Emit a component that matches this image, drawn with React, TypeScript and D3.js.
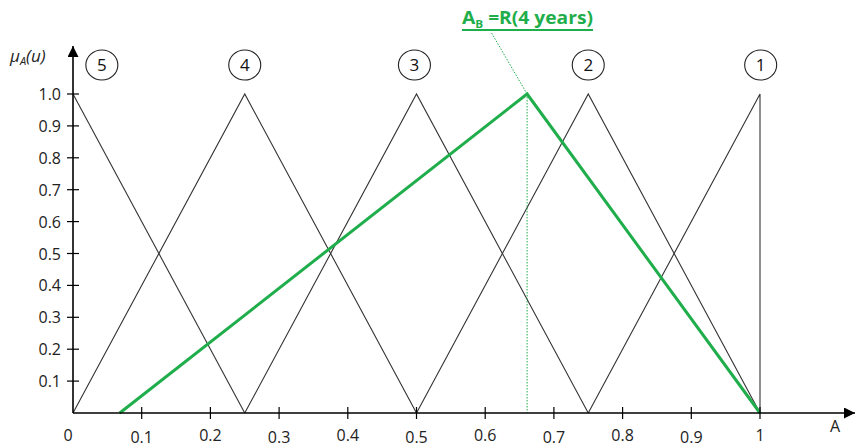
import React from "react";
import * as d3 from "d3";

const xTicks = [0, 0.1, 0.2, 0.3, 0.4, 0.5, 0.6, 0.7, 0.8, 0.9, 1];
const xTickLabels = ["0", "0.1", "0.2", "0.3", "0.4", "0.5", "0.6", "0.7", "0.8", "0.9", "1"];
const yTicks = [0.1, 0.2, 0.3, 0.4, 0.5, 0.6, 0.7, 0.8, 0.9, 1.0];
const yTickLabels = ["0.1", "0.2", "0.3", "0.4", "0.5", "0.6", "0.7", "0.8", "0.9", "1.0"];

// membership triangles: label, points [x, y]
const setLabels = ["5", "4", "3", "2", "1"];
const setPoints: [number, number][][] = [
  [[0, 1], [0.25, 0]],
  [[0, 0], [0.25, 1], [0.5, 0]],
  [[0.25, 0], [0.5, 1], [0.75, 0]],
  [[0.5, 0], [0.75, 1], [1, 0]],
  [[0.75, 0], [1, 1], [1, 0]],
];
const labelX = [0.042, 0.25, 0.497, 0.75, 1.001];

const greenPoints: [number, number][] = [[0.068, 0], [0.661, 1], [1, 0]];
const greenPeak = 0.661;

const GREEN = "#1fae4b";

export default function App() {
  const x = d3.scaleLinear().domain([0, 1]).range([73, 760]);
  const y = d3.scaleLinear().domain([0, 1]).range([413, 94]);
  const line = d3.line<[number, number]>().x((d) => x(d[0])).y((d) => y(d[1]));
  const font = "'Open Sans', 'DejaVu Sans', sans-serif";

  return (
    <svg width={855} height={448} style={{ position: "absolute", left: 0, top: 0 }} fontFamily={font}>
      <rect width={855} height={448} fill="#fff" />
      <defs>
        <marker id="arr" viewBox="0 0 10 10" refX="10" refY="5" markerWidth="11" markerHeight="11" markerUnits="userSpaceOnUse" orient="auto">
          <path d="M0,0 L10,5 L0,10 z" fill="#000" />
        </marker>
      </defs>
      {/* triangles */}
      {setPoints.map((pts, i) => (
        <path key={i} d={line(pts) || ""} fill="none" stroke="#333" strokeWidth={1.1} />
      ))}
      {/* green dotted guides */}
      <line x1={x(greenPeak)} y1={y(1)} x2={x(greenPeak)} y2={y(0)} stroke={GREEN} strokeWidth={1} strokeDasharray="1.5,1.5" />
      <line x1={x(greenPeak)} y1={y(1)} x2={491} y2={32} stroke={GREEN} strokeWidth={1} strokeDasharray="1.5,1.5" />
      <path d={line(greenPoints) || ""} fill="none" stroke={GREEN} strokeWidth={3} />
      {/* axes */}
      <line x1={x(0)} y1={y(0)} x2={855} y2={y(0)} stroke="#000" strokeWidth={1.6} markerEnd="url(#arr)" />
      <line x1={x(0)} y1={y(0)} x2={x(0)} y2={46} stroke="#000" strokeWidth={1.6} markerEnd="url(#arr)" />
      {xTicks.map((t, i) => (
        <g key={i}>
          {i > 0 && <line x1={x(t)} x2={x(t)} y1={y(0) - 6} y2={y(0) + 6} stroke="#000" strokeWidth={1.2} />}
          <text x={x(t) - (i === 0 ? 5 : 0)} y={i % 2 === 0 ? 441 : 443} fontSize={16} textAnchor="middle" fill="#222">
            {xTickLabels[i]}
          </text>
        </g>
      ))}
      {yTicks.map((t, i) => (
        <g key={i}>
          <line x1={x(0) - 6} x2={x(0) + 6} y1={y(t)} y2={y(t)} stroke="#000" strokeWidth={1.2} />
          <text x={61} y={y(t) + 6} fontSize={16} textAnchor="end" fill="#222">
            {yTickLabels[i]}
          </text>
        </g>
      ))}
      <text x={835} y={432} fontSize={16} textAnchor="middle" fill="#222">A</text>
      <text x={10} y={62} fontSize={17} fontStyle="italic" fill="#222">
        μ<tspan fontSize={11} dy={3}>A</tspan><tspan dy={-3}>(u)</tspan>
      </text>
      {/* set labels */}
      {setLabels.map((s, i) => (
        <g key={s}>
          <ellipse cx={x(labelX[i])} cy={65} rx={16} ry={15} fill="#fff" stroke="#222" strokeWidth={1.1} />
          <text x={x(labelX[i])} y={71} fontSize={17} textAnchor="middle" fill="#111">{s}</text>
        </g>
      ))}
      {/* green label */}
      <text x={462} y={24} fontSize={18} fontWeight="bold" fill={GREEN} textLength={131} lengthAdjust="spacingAndGlyphs">
        A<tspan fontSize={11} dy={4}>B</tspan><tspan dy={-4}> =R(4 years)</tspan>
      </text>
      <line x1={462} x2={593} y1={30} y2={30} stroke={GREEN} strokeWidth={1.8} />
    </svg>
  );
}
